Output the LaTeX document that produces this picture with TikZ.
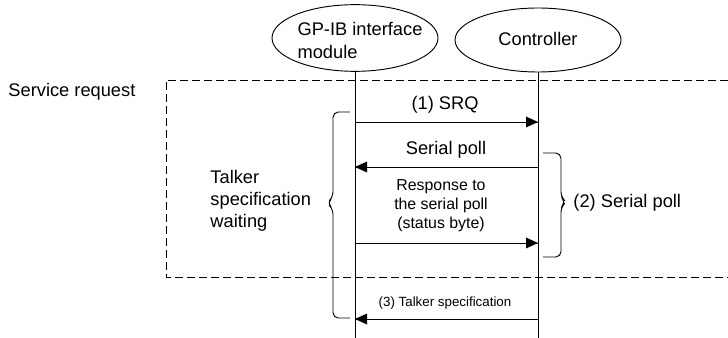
\documentclass[tikz,border=0pt]{standalone}
\usepackage{fontspec}
\setmainfont{Liberation Sans}
\usetikzlibrary{shapes.geometric}

\begin{document}
\begin{tikzpicture}[x=0.75pt,y=-0.75pt]
\tikzstyle{every node}+=[inner sep=0pt]
\tikzstyle{every path}+=[line width=0.7pt]
\tikzstyle{actor}=[draw, ellipse, minimum width=124.5pt, minimum height=50pt]
\tikzstyle{lbl}=[font=\fontsize{13.7}{16.5}\selectfont, align=left]
\tikzstyle{resp}=[font=\fontsize{11.9}{14.25}\selectfont, align=center]
\tikzstyle{note}=[font=\fontsize{10}{12}\selectfont]
\tikzstyle{frame}=[dash pattern=on 6pt off 3pt]
\useasboundingbox (0,0) rectangle (728,338);
% the two parties
\node [actor] (gpib) at (355,38) {};
\node [lbl, font=\fontsize{13.7}{17.25}\selectfont] (gpibtext) at (360,40) {GP-IB interface\\module};
\node [actor, minimum height=48pt] (ctrl) at (538,40) {};
\node [lbl] (ctrltext) at (538,39) {Controller};
\coordinate (gpibend) at (355,338);
\coordinate (ctrlend) at (538,338);
\draw (gpib.south) -- (gpibend);
\draw (ctrl.south) -- (ctrlend);
% service request frame
\draw [frame] (728,80) -| (166,277) -- (728,277);
\node [lbl, anchor=west] (srvreq) at (8,92) {Service request};
% (1) SRQ
\coordinate (g1) at (355,122);
\coordinate (c1) at (538,122);
\draw (g1) -- (c1);
\fill (c1) -- ++(-12,-5.5) -- ++(0,11) -- cycle;
\node [lbl] (srq) at (445,105) {(1) SRQ};
% serial poll
\coordinate (c2) at (538,167);
\coordinate (g2) at (355,167);
\draw (c2) -- (g2);
\fill (g2) -- ++(12,-5.5) -- ++(0,11) -- cycle;
\node [lbl] (poll) at (446,150) {Serial poll};
% response
\coordinate (g3) at (355,243);
\coordinate (c3) at (538,243);
\draw (g3) -- (c3);
\fill (c3) -- ++(-12,-5.5) -- ++(0,11) -- cycle;
\node [resp] (resp) at (441,206) {Response to\\the serial poll\\(status byte)};
% (3) talker specification
\coordinate (c4) at (538,319);
\coordinate (g4) at (355,319);
\draw (c4) -- (g4);
\fill (g4) -- ++(12,-5.5) -- ++(0,11) -- cycle;
\node [note] (talk) at (445,303) {(3) Talker specification};
% braces
\draw [rounded corners=4] (350,112) -- (333,112) -- (333,197) -- (327,203) -- (333,209) -- (333,318) -- (350,318);
\node [lbl, anchor=west] (wait) at (210,201) {Talker\\specification\\waiting};
\draw [rounded corners=4] (543,153) -- (561,153) -- (561,197) -- (566,202) -- (561,207) -- (561,257) -- (543,257);
\node [lbl, anchor=west] (spoll) at (573,203) {(2) Serial poll};
\end{tikzpicture}
\end{document}
